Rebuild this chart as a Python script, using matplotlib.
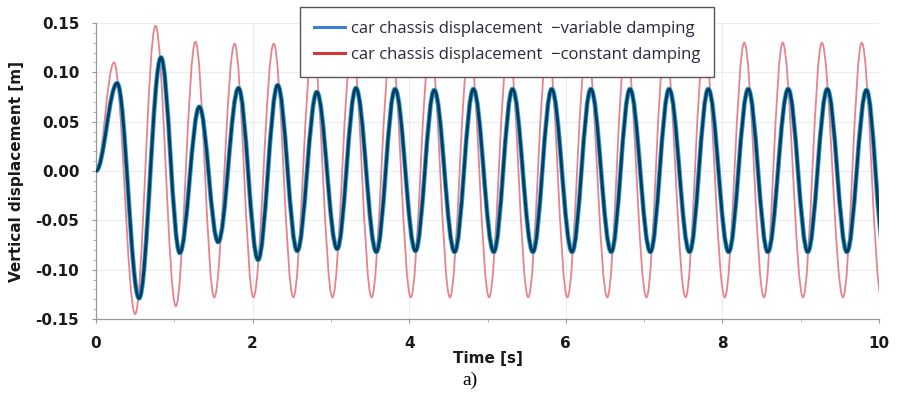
import numpy as np
import matplotlib
matplotlib.use("Agg")
import matplotlib.pyplot as plt
from matplotlib.path import Path
from matplotlib.patches import PathPatch
from matplotlib.lines import Line2D
from matplotlib.ticker import FormatStrFormatter, MultipleLocator

plt.rcParams['axes.unicode_minus'] = False

# extrema (time [s], displacement [m])
var_t = [0.00, 0.27, 0.55, 0.83, 1.07, 1.32, 1.56, 1.82, 2.07, 2.32,
         2.57, 2.82, 3.08, 3.32, 3.58, 3.82, 4.08, 4.32, 4.58, 4.82,
         5.08, 5.32, 5.58, 5.82, 6.08, 6.32, 6.58, 6.82, 7.08, 7.32,
         7.58, 7.82, 8.08, 8.33, 8.58, 8.84, 9.09, 9.34, 9.59, 9.84,
         10.07]
var_y = [0.000, 0.089, -0.129, 0.115, -0.083, 0.065, -0.072, 0.084, -0.090, 0.087,
         -0.081, 0.080, -0.079, 0.084, -0.082, 0.083, -0.081, 0.082, -0.082, 0.083,
         -0.082, 0.083, -0.082, 0.083, -0.082, 0.083, -0.082, 0.083, -0.082, 0.083,
         -0.082, 0.083, -0.082, 0.083, -0.082, 0.083, -0.082, 0.083, -0.082, 0.082,
         -0.082]

const_t = [0.00, 0.23, 0.50, 0.76, 1.02, 1.27, 1.51, 1.77, 2.01, 2.27,
           2.52, 2.77, 3.02, 3.27, 3.52, 3.77, 4.02, 4.27, 4.52, 4.77,
           5.02, 5.27, 5.52, 5.77, 6.02, 6.27, 6.53, 6.77, 7.03, 7.27,
           7.53, 7.77, 8.03, 8.28, 8.53, 8.77, 9.03, 9.27, 9.54, 9.78,
           10.03]
const_y = [0.000, 0.110, -0.145, 0.147, -0.137, 0.131, -0.128, 0.129, -0.128, 0.129,
           -0.128, 0.130, -0.128, 0.130, -0.128, 0.130, -0.128, 0.130, -0.128, 0.130,
           -0.128, 0.130, -0.128, 0.130, -0.128, 0.130, -0.128, 0.130, -0.128, 0.130,
           -0.128, 0.130, -0.128, 0.130, -0.128, 0.130, -0.128, 0.130, -0.128, 0.130,
           -0.128]

labels = ['car chassis displacement  \u2212variable damping',
          'car chassis displacement  \u2212constant damping']


def smooth_path(ts, ys, k=0.3642):
    # cubic bezier between extrema, flat tangent at each extremum
    verts = [(ts[0], ys[0])]
    codes = [Path.MOVETO]
    for t0, y0, t1, y1 in zip(ts[:-1], ys[:-1], ts[1:], ys[1:]):
        dt = t1 - t0
        verts += [(t0 + k * dt, y0), (t1 - k * dt, y1), (t1, y1)]
        codes += [Path.CURVE4] * 3
    return Path(verts, codes)


fig = plt.figure(figsize=(8.98, 4.0), dpi=100)
ax = fig.add_axes([96 / 898, 1 - 319 / 400, (879 - 96) / 898, (319 - 23) / 400])

ax.add_patch(PathPatch(smooth_path(const_t, const_y), fill=False,
                       edgecolor='#e8838c', lw=1.3, zorder=2))
ax.add_patch(PathPatch(smooth_path(var_t, var_y), fill=False,
                       edgecolor='#35acd0', lw=3.4, zorder=3))
ax.add_patch(PathPatch(smooth_path(var_t, var_y), fill=False,
                       edgecolor='#0b3a62', lw=2.1, zorder=4))

ax.set_xlim(0, 10)
ax.set_ylim(-0.15, 0.15)
ax.set_xticks([0, 2, 4, 6, 8, 10])
ax.set_yticks([-0.15, -0.10, -0.05, 0.00, 0.05, 0.10, 0.15])
ax.xaxis.set_minor_locator(MultipleLocator(1))
ax.yaxis.set_minor_locator(MultipleLocator(0.01))
ax.yaxis.set_major_formatter(FormatStrFormatter('%.2f'))
ax.xaxis.set_major_formatter(FormatStrFormatter('%d'))

tick_font = dict(family='DejaVu Sans', weight='bold', size=11)
for lab in ax.get_xticklabels() + ax.get_yticklabels():
    lab.set_fontproperties(tick_font)
    lab.set_color('#1a1a1a')
ax.tick_params(which='major', length=3, width=0.8, color='#999999', pad=9)
ax.tick_params(which='minor', length=2, width=0.6, color='#aaaaaa')

ax.grid(True, which='major', color='#ececec', lw=0.8, zorder=0)
for s in ['top', 'right']:
    ax.spines[s].set_visible(False)
for s in ['left', 'bottom']:
    ax.spines[s].set_color('#999999')
    ax.spines[s].set_linewidth(0.9)

ax.set_xlabel('Time [s]', fontdict=tick_font, color='#1a1a1a', labelpad=0)
ax.set_ylabel('Vertical displacement [m]', fontdict=tick_font, color='#1a1a1a', labelpad=8)

handles = [Line2D([], [], color='#3b7dd8', lw=2.2),
           Line2D([], [], color='#d4373a', lw=2.2)]
leg = fig.legend(handles, labels, loc='upper left',
                 bbox_to_anchor=(300 / 898, 1 - 7 / 400), bbox_transform=fig.transFigure,
                 frameon=True, fancybox=False, edgecolor='#555555', framealpha=1,
                 borderaxespad=0, handlelength=1.85, handletextpad=0.4,
                 labelspacing=0.62, borderpad=0.82,
                 prop=dict(family='Open Sans', size=12))
leg.get_frame().set_linewidth(1.0)
leg.set_zorder(10)
for txt in leg.get_texts():
    txt.set_color('#2a2a3a')

fig.text(470 / 898, 1 - 380 / 400, 'a)', family='Liberation Serif', size=14,
         ha='center', va='center', color='black')

fig.savefig('out.png', dpi=100)
